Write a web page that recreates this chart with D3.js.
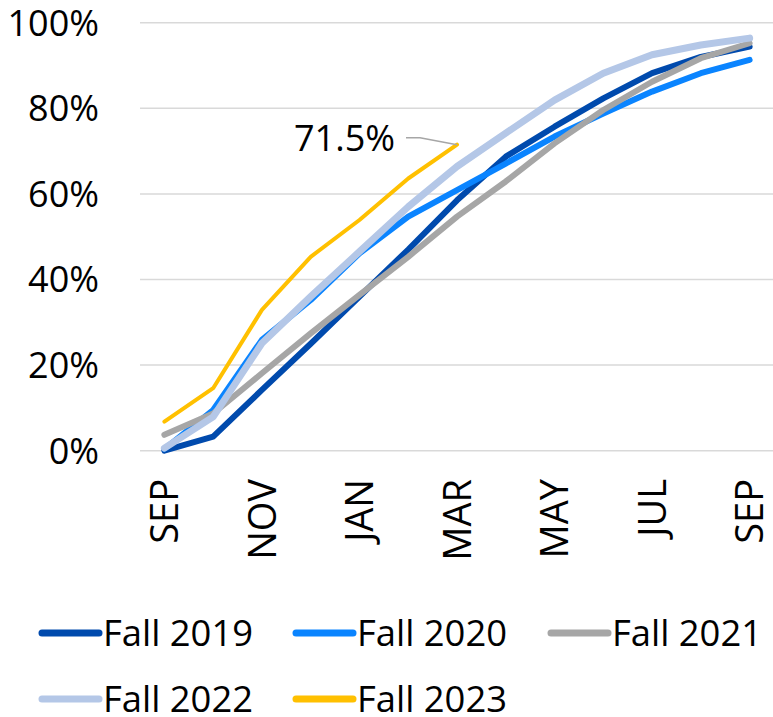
<!DOCTYPE html>
<html>
<head>
<meta charset="utf-8">
<script src="https://cdn.jsdelivr.net/npm/d3@7"></script>
<style>
  body { margin: 0; background: #fff; }
  text { font-family: "Open Sans", sans-serif; fill: #000; }
</style>
</head>
<body>
<div id="chart"></div>
<script>
const width = 773;
const height = 717;

const months = ["SEP", "OCT", "NOV", "DEC", "JAN", "FEB", "MAR", "APR", "MAY", "JUN", "JUL", "AUG", "SEP2"];
const monthLabels = ["SEP", "", "NOV", "", "JAN", "", "MAR", "", "MAY", "", "JUL", "", "SEP"];
const yTicks = [0, 0.2, 0.4, 0.6, 0.8, 1.0];

const seriesNames = ["Fall 2019", "Fall 2020", "Fall 2021", "Fall 2022", "Fall 2023"];
const seriesColors = ["#004AAD", "#0A84FF", "#A6A6A6", "#B4C7E7", "#FFC000"];
const seriesWidths = [6, 6, 6, 7, 4];

const fall2019 = [0.000, 0.033, 0.142, 0.250, 0.360, 0.470, 0.585, 0.687, 0.757, 0.823, 0.882, 0.920, 0.944];
const fall2020 = [0.004, 0.095, 0.259, 0.352, 0.461, 0.547, 0.609, 0.671, 0.734, 0.788, 0.839, 0.882, 0.913];
const fall2021 = [0.037, 0.087, 0.181, 0.274, 0.364, 0.453, 0.547, 0.629, 0.718, 0.796, 0.862, 0.917, 0.952];
const fall2022 = [0.006, 0.079, 0.251, 0.360, 0.465, 0.570, 0.664, 0.742, 0.819, 0.882, 0.925, 0.948, 0.964];
const fall2023 = [0.068, 0.146, 0.329, 0.453, 0.539, 0.636, 0.715];

const allSeries = [fall2019, fall2020, fall2021, fall2022, fall2023];

const svg = d3.select("#chart").append("svg")
    .attr("width", width)
    .attr("height", height);

const x = d3.scalePoint()
    .domain(months)
    .range([140, 774])
    .padding(0.5);

const y = d3.scaleLinear()
    .domain([0, 1])
    .range([450.7, 22.7]);

// gridlines
svg.append("g")
    .selectAll("line")
    .data(yTicks)
    .enter().append("line")
    .attr("x1", 140)
    .attr("x2", 774)
    .attr("y1", d => y(d))
    .attr("y2", d => y(d))
    .style("stroke", "#d9d9d9")
    .style("stroke-width", 1.5);

// y labels
svg.append("g")
    .selectAll("text")
    .data(yTicks)
    .enter().append("text")
    .attr("x", 99)
    .attr("y", d => y(d))
    .attr("dy", "0.36em")
    .attr("text-anchor", "end")
    .style("font-size", "36px")
    .text(d => d3.format(".0%")(d));

// x labels (every other month), cap height centred on the tick
svg.append("g")
    .selectAll("text")
    .data(months)
    .enter().append("text")
    .attr("transform", d => `translate(${x(d)},479) rotate(-90)`)
    .attr("dy", "0.36em")
    .attr("text-anchor", "end")
    .style("font-size", "38px")
    .text((d, i) => monthLabels[i]);

const line = d3.line()
    .x((d, i) => x(months[i]))
    .y(d => y(d));

svg.append("g")
    .selectAll("path")
    .data(allSeries)
    .enter().append("path")
    .attr("d", d => line(d))
    .style("fill", "none")
    .style("stroke", (d, i) => seriesColors[i])
    .style("stroke-width", (d, i) => seriesWidths[i])
    .style("stroke-linejoin", "round")
    .style("stroke-linecap", "round");

// data label for the latest point of Fall 2023
const lastIdx = fall2023.length - 1;
const lx = x(months[lastIdx]);
const ly = y(fall2023[lastIdx]);
svg.append("path")
    .attr("d", `M${lx},${ly} L${lx - 37},${ly - 7} L${lx - 51},${ly - 7}`)
    .style("fill", "none")
    .style("stroke", "#a6a6a6")
    .style("stroke-width", 1.5);

svg.append("text")
    .attr("x", 395)
    .attr("y", 151)
    .attr("text-anchor", "end")
    .style("font-size", "36px")
    .text(d3.format(".1%")(fall2023[lastIdx]));

// legend
const legendPos = [[42, 633], [296, 633], [551, 633], [42, 699], [296, 699]];
const legend = svg.append("g")
    .selectAll("g")
    .data(seriesNames)
    .enter().append("g")
    .attr("transform", (d, i) => `translate(${legendPos[i][0]},${legendPos[i][1]})`);

legend.append("line")
    .attr("x1", 0)
    .attr("x2", 57)
    .style("stroke", (d, i) => seriesColors[i])
    .style("stroke-width", 7)
    .style("stroke-linecap", "round");

legend.append("text")
    .attr("x", 61)
    .attr("y", 13)
    .attr("textLength", 150)
    .attr("lengthAdjust", "spacingAndGlyphs")
    .style("font-size", "37px")
    .text(d => d);
</script>
</body>
</html>
